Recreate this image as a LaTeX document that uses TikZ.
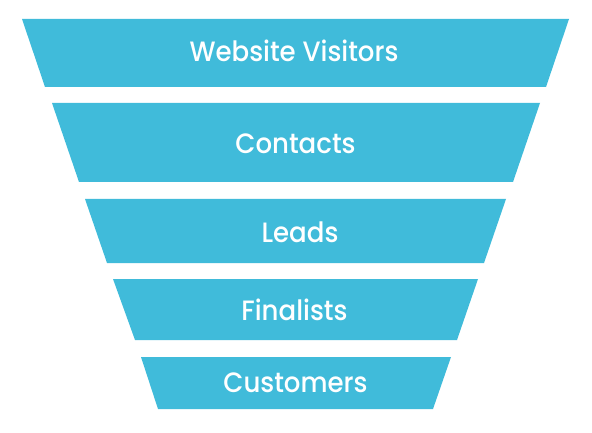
\documentclass[tikz,border=0pt]{standalone}
\usepackage{fontspec}
\setmainfont{Poppins}[UprightFont=* Medium, FakeStretch=0.93]
\definecolor{funnel}{HTML}{40BBDA}
\begin{document}
\begin{tikzpicture}[x=1pt,y=-1pt,
  band/.style={fill=funnel,draw=none},
  label/.style={text=white,anchor=base,inner sep=0pt,font=\fontsize{28}{30}\selectfont}]
\useasboundingbox (0,0) rectangle (592,433);
\fill[white] (0,0) rectangle (592,433);
\path[band] (22,19) -- (569,19) -- (546,87) -- (45,87) -- cycle;
\path[band] (52,103) -- (540,103) -- (513,182) -- (79,182) -- cycle;
\path[band] (85,199) -- (506,199) -- (484,263) -- (107,263) -- cycle;
\path[band] (113,279) -- (478,279) -- (457,340) -- (135,340) -- cycle;
\path[band] (141,357) -- (451,357) -- (433,409) -- (158,409) -- cycle;
\node[label] (t1) at (294,62) {Website Visitors};
\node[label] (t2) at (295.5,154) {Contacts};
\node[label] (t3) at (300,242) {Leads};
\node[label] (t4) at (294.5,320) {Finalists};
\node[label] (t5) at (295.5,392) {Customers};
\end{tikzpicture}
\end{document}
